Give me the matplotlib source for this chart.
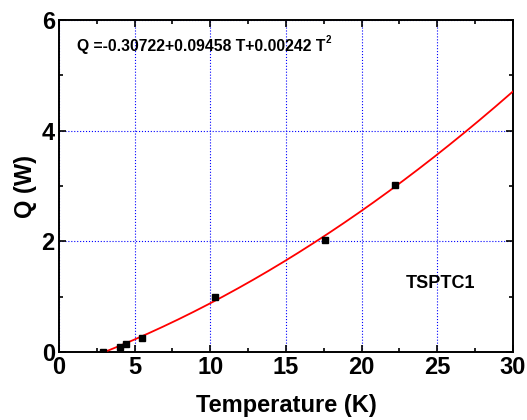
import numpy as np
import matplotlib.pyplot as plt
from matplotlib.ticker import MultipleLocator

plt.rcParams['font.family'] = ['Liberation Sans', 'DejaVu Sans']
plt.rcParams['font.weight'] = 'bold'

# measured heat load vs temperature
temp_K = [2.9, 4.0, 4.4, 5.5, 10.3, 17.6, 22.2]
load_W = [0.0, 0.09, 0.14, 0.25, 1.00, 2.03, 3.02]

# quadratic fit coefficients
c0, c1, c2 = -0.30722, 0.09458, 0.00242

fig = plt.figure(figsize=(5.27, 4.2), dpi=100)
ax = fig.add_axes([0.112, 0.162, 0.861, 0.790])

T = np.linspace(3.0, 30, 300)
ax.plot(T, c0 + c1*T + c2*T**2, color='red', lw=1.3, zorder=3)
ax.plot(temp_K, load_W, 's', color='black', ms=5, zorder=4)

ax.set_xlim(0, 30)
ax.set_ylim(0, 6)
ax.xaxis.set_major_locator(MultipleLocator(5))
ax.xaxis.set_minor_locator(MultipleLocator(2.5))
ax.yaxis.set_major_locator(MultipleLocator(2))
ax.yaxis.set_minor_locator(MultipleLocator(1))
ax.tick_params(which='both', direction='in', top=True, right=True, width=1.2)
ax.tick_params(which='major', length=5, labelsize=17, pad=3)
ax.tick_params(which='minor', length=3)
for lab in ax.get_xticklabels() + ax.get_yticklabels():
    lab.set_fontweight('bold')
for s in ax.spines.values():
    s.set_linewidth(1.4)

ax.grid(True, which='major', color='blue', ls=':', lw=0.8)

ax.set_xlabel('Temperature (K)', fontsize=17, fontweight='bold', labelpad=11)
ax.set_ylabel('Q (W)', fontsize=17, fontweight='bold', labelpad=3)

ax.text(0.04, 0.92, 'Q =-0.30722+0.09458 T+0.00242 T',
        transform=ax.transAxes, fontsize=11.3, fontweight='bold', va='center')
ax.text(0.588, 0.94, '2', transform=ax.transAxes, fontsize=7,
        fontweight='bold', va='center')
ax.text(0.84, 0.205, 'TSPTC1', transform=ax.transAxes, fontsize=13,
        fontweight='bold', ha='center', va='center')

fig.savefig('out.png', dpi=100)
